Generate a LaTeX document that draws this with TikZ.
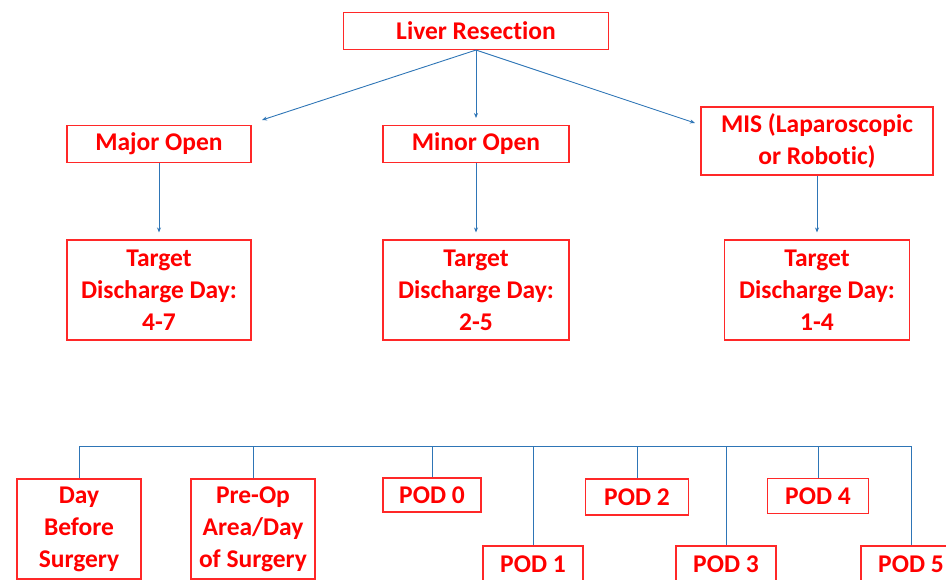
\documentclass[tikz,border=0pt]{standalone}
\usepackage{fontspec}
\setmainfont{Carlito}[Ligatures=NoCommon]
\usetikzlibrary{arrows.meta}
\definecolor{boxred}{RGB}{255,40,40}
\definecolor{linkblue}{RGB}{46,117,182}
\begin{document}
\begin{tikzpicture}[x=1pt,y=-1pt,
    box/.style={draw=boxred,line width=1.1pt,fill=white,text=red,
        font=\fontsize{25.5}{32}\selectfont\bfseries,align=center,inner sep=0pt},
    link/.style={draw=linkblue,line width=0.9pt},
    arr/.style={link,-{Stealth[length=5pt,width=4pt]}}]

    % Page size matched to the provided image
    \useasboundingbox (0,0) rectangle (946,580);

    % Top level box and the three kinds of resection
    \node[box,minimum width=265pt,minimum height=37pt] (LR) at (476,31) {Liver Resection};
    \node[box,minimum width=184pt,minimum height=37pt] (MO) at (159,144) {Major Open};
    \node[box,minimum width=186pt,minimum height=37pt] (NO) at (476,144) {Minor Open};
    \node[box,minimum width=232pt,minimum height=68pt] (MIS) at (817,141) {MIS (Laparoscopic\\or Robotic)};

    % Target discharge boxes
    \node[box,minimum width=184pt,minimum height=100pt] (TMO) at (159,290) {Target\\Discharge Day:\\4-7};
    \node[box,minimum width=186pt,minimum height=100pt] (TNO) at (476,290) {Target\\Discharge Day:\\2-5};
    \node[box,minimum width=185pt,minimum height=100pt] (TMIS) at (817,290) {Target\\Discharge Day:\\1-4};

    % Arrow ends just short of the boxes
    \coordinate (MOend) at (262,120);
    \coordinate (NOend) at (476,118);
    \coordinate (MISend) at (695,123);

    \draw[arr] (LR.south) -- (MOend);
    \draw[arr] (LR.south) -- (NOend);
    \draw[arr] (LR.south) -- (MISend);

    \draw[arr,shorten >=7pt] (MO.south) -- (TMO.north);
    \draw[arr,shorten >=7pt] (NO.south) -- (TNO.north);
    \draw[arr,shorten >=7pt] (MIS.south -| TMIS.north) -- (TMIS.north);

    % Timeline boxes along the bottom
    \node[box,minimum width=124pt,minimum height=100pt] (DBS) at (79,529) {Day\\Before\\Surgery};
    \node[box,minimum width=124pt,minimum height=100pt] (PRE) at (253,529) {Pre-Op\\Area/Day\\of Surgery};
    \node[box,minimum width=98pt,minimum height=34pt] (P0) at (432,495) {POD 0};
    \node[box,minimum width=100pt,minimum height=36pt] (P1) at (533,564) {POD 1};
    \node[box,minimum width=103pt,minimum height=36pt] (P2) at (637,497) {POD 2};
    \node[box,minimum width=100pt,minimum height=36pt] (P3) at (726,564) {POD 3};
    \node[box,minimum width=101pt,minimum height=35pt] (P4) at (818,496) {POD 4};
    \node[box,minimum width=100pt,minimum height=36pt] (P5) at (911,564) {POD 5};

    % Bus line and the drops to each box
    \coordinate (busL) at (80,446);
    \coordinate (busR) at (912,446);
    \draw[link] (busL) -- (busR);
    \foreach \b in {DBS,PRE,P0,P1,P2,P3,P4,P5}
        \draw[link] (\b.north) -- (\b.north |- busL);

\end{tikzpicture}
\end{document}
